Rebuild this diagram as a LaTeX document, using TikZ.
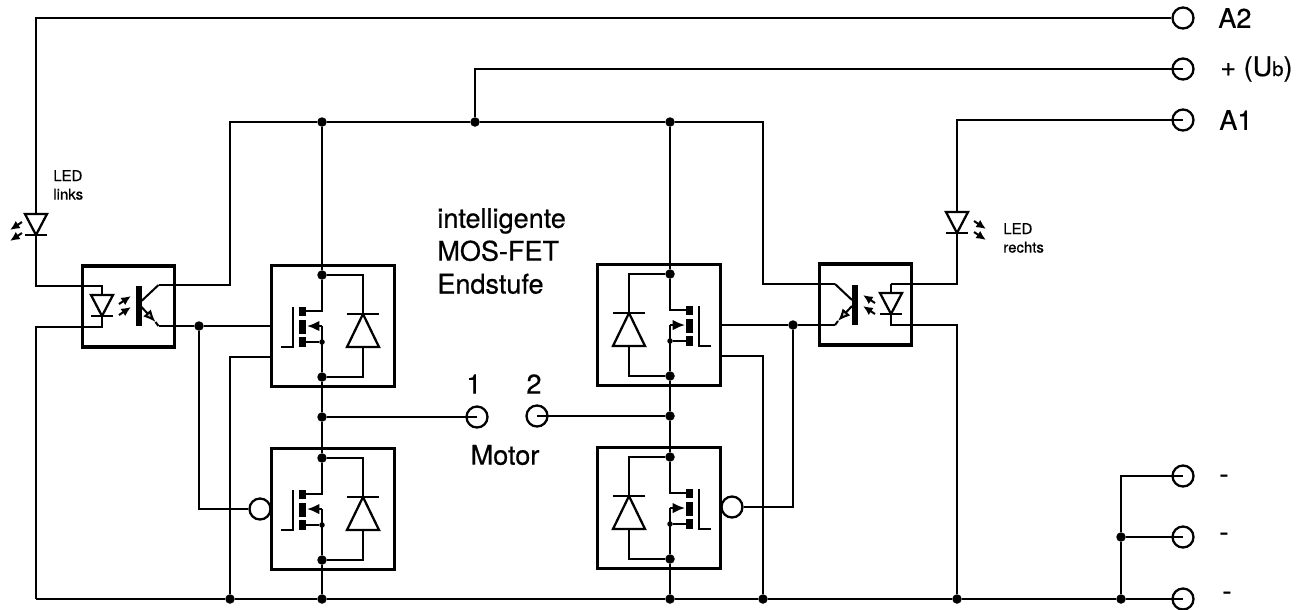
\documentclass[tikz,border=0pt]{standalone}
\usepackage{fontspec}
\setmainfont[RawFeature={embolden=0.5}]{TeX Gyre Heros}
\usetikzlibrary{arrows.meta, positioning, calc}

\tikzset{
  wire/.style={line width=1.15pt},
  dot/.style={circle,fill=black,inner sep=0pt,minimum size=0.19cm},
  smalldot/.style={circle,fill=black,inner sep=0pt,minimum size=0.11cm},
  term/.style={circle,draw,line width=1.3pt,inner sep=0pt,minimum size=0.42cm},
  fetbox/.style={draw,line width=2.1pt,inner sep=0pt,minimum width=2.46cm,minimum height=2.42cm},
  optobox/.style={draw,line width=2.1pt,inner sep=0pt,minimum width=1.84cm,minimum height=1.62cm},
  biglabel/.style={font=\fontsize{15.4}{18.7}\selectfont,inner sep=0pt},
  pinlabel/.style={font=\fontsize{15.4}{17}\selectfont,inner sep=0pt,anchor=west},
  tinylabel/.style={font=\fontsize{8.5}{10.5}\selectfont,inner sep=0pt,align=left,anchor=west},
  pics/fet/.style={code={
    \node[fetbox] (-box) at (11,0) {};
    \node[dot] (-top) at (0,-51) {};
    \node[dot] (-bot) at (0,51) {};
    \coordinate (-in2) at (-51,31);
    % transistor
    \draw[wire] (-top) -- (0,-15) -- (-16,-15);
    \draw[wire] (-bot) -- (0,0);
    \draw[wire,-{Latex[length=7pt,width=6pt]}] (0,0) -- (-15,0);
    \node[smalldot] (-src) at (0,16) {};
    \draw[wire] (-src) -- (-16,16);
    \fill (-23,-19) rectangle (-16,-10);
    \fill (-23,-6) rectangle (-16,8);
    \fill (-23,11) rectangle (-16,21);
    \draw[wire] (-29,-19) -- (-29,21) -- (-41,21);
    % diode
    \draw[wire] (-top) -| (41,-12);
    \draw[wire] (-bot) -| (41,21);
    \draw[wire,line width=1.3pt] (25,-12) -- (57,-12);
    \draw[wire,line width=1.3pt] (41,-12) -- (57,21) -- (25,21) -- cycle;
  }},
  pics/led/.style={code={
    \coordinate (-t) at (0,-30);
    \coordinate (-a) at (0,-21);
    \coordinate (-k) at (0,0);
    \coordinate (-u) at (0,11);
    \draw[wire,line width=1.3pt] (-11,-21) -- (11,-21) -- (0,0) -- cycle;
    \draw[wire,line width=1.3pt] (-11,0) -- (11,0);
  }},
  pics/rays/.style={code={
    \draw[wire,>={Latex[length=5.5pt,width=5pt]}] (0,0) -- (12,-8);
    \draw[wire,>={Latex[length=5.5pt,width=5pt]}] (0,11) -- (12,3);
  }},
  pics/photo/.style={code={
    \coordinate (-c) at (20,-1);
    \coordinate (-e) at (20,40);
    \fill (-3,0) rectangle (3,40);
    \draw[wire] (3,15) -- (-c);
    \draw[wire,-{Latex[open,fill=gray!50,length=7pt,width=6pt]}] (3,21) -- (17,36);
    \draw[wire] (17,36) -- (-e);
  }}
}

\begin{document}
\begin{tikzpicture}[x=0.02cm,y=-0.02cm]
    \useasboundingbox (0,0) rectangle (1308,609);

    % terminals
    \node[term] (tAb) at (1183,18) {};
    \node[term] (tUb) at (1183,69) {};
    \node[term] (tAa) at (1183,120) {};
    \node[term] (tMa) at (477,417) {};
    \node[term] (tMb) at (537,416) {};
    \node[term] (tGa) at (1183,476) {};
    \node[term] (tGb) at (1183,537) {};
    \node[term] (tGc) at (1183,599) {};

    % output stages
    \pic (fUL) at (322,326) {fet};
    \pic (fLL) at (322,509) {fet};
    \pic[xscale=-1] (fUR) at (670,325) {fet};
    \pic[xscale=-1] (fLR) at (670,508) {fet};
    \node[term] (invL) at (260,509) {};
    \node[term] (invR) at (732,507) {};

    % optocouplers
    \node[optobox] (optoL) at (128.5,306.5) {};
    \node[optobox] (optoR) at (865.5,304.5) {};
    \pic (dL) at (102,316) {led};
    \pic (dR) at (891,314) {led};
    \pic (qL) at (138.5,286) {photo};
    \pic[xscale=-1] (qR) at (855,285) {photo};
    \pic[->] at (119,304) {rays};
    \pic[xscale=-1,->] at (875,303) {rays};

    % external LEDs
    \pic (ledL) at (36,235) {led};
    \pic (ledR) at (957,233) {led};
    \pic[<-] at (10,230) {rays};
    \pic[xscale=-1,<-] at (986,229) {rays};

    % junctions
    \node[dot] (railA) at (322,122) {};
    \node[dot] (railB) at (475,122) {};
    \node[dot] (railC) at (670,122) {};
    \node[dot] (midL) at (322,417) {};
    \node[dot] (midR) at (670,416) {};
    \node[dot] (ctlL) at (199,326) {};
    \node[dot] (ctlR) at (793,325) {};
    \node[dot] (gndA) at (230,599) {};
    \node[dot] (gndB) at (322,599) {};
    \node[dot] (gndC) at (670,599) {};
    \node[dot] (gndD) at (763,599) {};
    \node[dot] (gndE) at (957,599) {};
    \node[dot] (gndF) at (1121,599) {};
    \node[dot] (gndG) at (1121,537) {};
    \coordinate (cornerA) at (36,18);
    \coordinate (cornerB) at (36,599);
    \coordinate (cornerC) at (1121,476);
    \coordinate (topL) at (230,122);
    \coordinate (topR) at (763,122);

    % wires
    \draw[wire] (ledL-a) -- (cornerA) -- (tAb);
    \draw[wire] (railB) |- (tUb.center);
    \draw[wire] (dR-t) -| (ledR-k);
    \draw[wire] (ledR-a) |- (tAa.center);
    \draw[wire] (ledL-k) |- (dL-t) -- (dL-a);
    \draw[wire] (dL-k) -- (dL-u) -| (cornerB);
    \draw[wire] (dR-t) -- (dR-a);
    \draw[wire] (dR-k) -- (dR-u) -| (gndE);
    \draw[wire] (qL-c) -| (topL) -- (railA) -- (railB) -- (railC) -- (topR) |- (qR-c);
    \draw[wire] (qL-e) -- (ctlL) -- (fUL-box.west);
    \draw[wire] (qR-e) -- (ctlR) -- (fUR-box.east);
    \draw[wire] (ctlL) |- (invL);
    \draw[wire] (ctlR) |- (invR);
    \draw[wire] (fUL-in2) -| (gndA);
    \draw[wire] (fUR-in2) -| (gndD);
    \draw[wire] (railA) -- (fUL-top);
    \draw[wire] (railC) -- (fUR-top);
    \draw[wire] (fUL-bot) -- (midL) -- (fLL-top);
    \draw[wire] (fUR-bot) -- (midR) -- (fLR-top);
    \draw[wire] (fLL-bot) -- (gndB);
    \draw[wire] (fLR-bot) -- (gndC);
    \draw[wire] (midL) -- (tMa.center);
    \draw[wire] (tMb.center) -- (midR);
    \draw[wire] (cornerB) -- (gndA) -- (gndB) -- (gndC) -- (gndD) -- (gndE) -- (gndF) -- (tGc.center);
    \draw[wire] (gndF) -- (gndG) -- (cornerC) -- (tGa.center);
    \draw[wire] (gndG) -- (tGb.center);

    % labels
    \node[pinlabel] (lblAb) at (1218,18) {A2};
    \node[pinlabel] (lblUb) at (1220,69) {+ (U{\fontsize{11.5}{12}\selectfont b})};
    \node[pinlabel] (lblAa) at (1219,120) {A1};
    \node[pinlabel,anchor=base] (lblGa) at (1224,483) {-};
    \node[pinlabel,anchor=base] (lblGb) at (1224,541) {-};
    \node[pinlabel,anchor=base] (lblGc) at (1227,600) {-};
    \node[biglabel,align=left,anchor=west] (lblStage) at (437,251) {intelligente\\MOS-FET\\Endstufe};
    \node[biglabel] (lblOne) at (474,384) {1};
    \node[biglabel] (lblTwo) at (534,384) {2};
    \node[biglabel] (lblMotor) at (505,455) {Motor};
    \node[tinylabel] (lblLedL) at (53,185) {LED\\links};
    \node[tinylabel] (lblLedR) at (1003,238) {LED\\rechts};
\end{tikzpicture}
\end{document}
